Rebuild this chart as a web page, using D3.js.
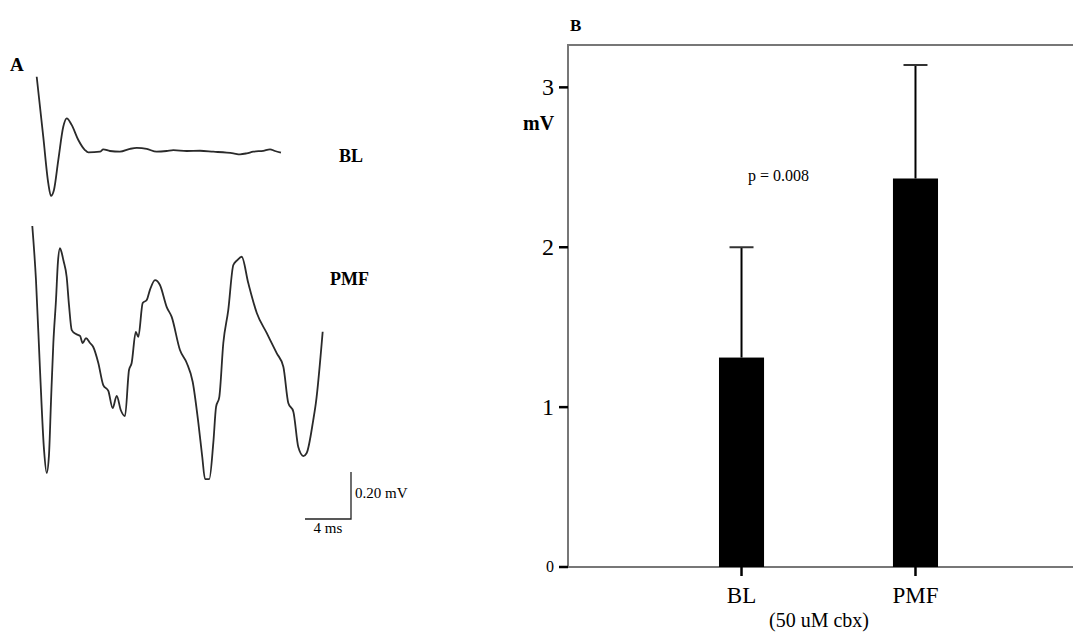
<!DOCTYPE html>
<html>
<head>
<meta charset="utf-8">
<script src="https://cdn.jsdelivr.net/npm/d3@7"></script>
<style>
  body { margin: 0; background: #fff; }
  svg { display: block; }
  text { font-family: "Liberation Serif", "Times New Roman", serif; fill: #000; }
</style>
</head>
<body>
<div id="chart"></div>
<script>
// panel A traces: time (ms) and voltage (mV)
var blTime = [0, 0.57, 1.01, 1.24, 1.50, 1.88, 2.31, 2.61, 3.04, 3.62, 4.20, 4.49, 5.50, 5.79, 6.37, 7.24, 8.11, 8.70, 9.57, 10.43, 11.30, 11.88, 13.04, 14.20, 15.36, 16.52, 17.10, 17.68, 18.26, 18.83, 19.70, 20.29, 20.72, 21.24];
var blVolt = [0.316, 0.061, -0.138, -0.191, -0.166, -0.038, 0.103, 0.139, 0.111, 0.047, 0.004, -0.006, -0.003, 0.007, 0, -0.003, 0.009, 0.013, 0.009, -0.003, 0, 0.004, 0, 0.001, -0.003, -0.007, -0.010, -0.014, -0.010, -0.003, 0.001, 0.007, 0, -0.007];

var pmfTime = [0, 0.32, 0.67, 1.02, 1.25, 1.45, 1.63, 1.83, 2.06, 2.23, 2.41, 2.54, 2.70, 2.99, 3.19, 3.43, 3.80, 4.15, 4.38, 4.67, 5.02, 5.30, 5.74, 6.17, 6.61, 6.99, 7.34, 7.69, 8.06, 8.41, 8.64, 9.00, 9.22, 9.60, 9.95, 10.23, 10.67, 11.10, 11.69, 12.12, 12.84, 13.43, 13.95, 14.44, 14.78, 15.02, 15.39, 15.74, 15.98, 16.26, 16.61, 17.04, 17.48, 17.83, 18.21, 18.78, 19.52, 20.38, 21.25, 21.83, 22.26, 22.70, 23.13, 23.57, 23.86, 24.43, 24.66, 25.25];
var pmfVolt = [0.532, 0.302, -0.081, -0.421, -0.519, -0.443, -0.209, 0.034, 0.217, 0.379, 0.438, 0.421, 0.387, 0.315, 0.196, 0.089, 0.072, 0.064, 0.034, 0.055, 0.034, 0.017, -0.051, -0.145, -0.170, -0.243, -0.191, -0.251, -0.277, -0.081, -0.051, 0.081, 0.060, 0.204, 0.217, 0.260, 0.302, 0.281, 0.187, 0.145, 0.004, -0.051, -0.132, -0.306, -0.451, -0.545, -0.545, -0.391, -0.238, -0.196, 0.034, 0.174, 0.366, 0.387, 0.401, 0.289, 0.162, 0.077, -0.009, -0.067, -0.221, -0.258, -0.409, -0.447, -0.434, -0.294, -0.221, 0.082];

var scaleBarMs = 4;
var scaleBarMv = 0.20;

// panel B bars
var categories = ["BL", "PMF"];
var means = [1.31, 2.43];
var errors = [0.69, 0.71];
var yTicks = [0, 1, 2, 3];
var pText = "p = 0.008";

var width = 1073, height = 632;

var svg = d3.select("#chart").append("svg")
  .attr("width", width)
  .attr("height", height);

// ---------- panel A ----------
var xA = d3.scaleLinear().domain([0, 26]).range([0, 299]);   // 11.5 px per ms
var yA = d3.scaleLinear().domain([-1, 1]).range([235, -235]); // 235 px per mV

var line = d3.line()
  .x(function(d) { return xA(d[0]); })
  .y(function(d) { return yA(d[1]); })
  .curve(d3.curveMonotoneX);

var traces = [
  { t: blTime, v: blVolt, ox: 36.7, oy: 151, label: "BL", lx: 339, ly: 162 },
  { t: pmfTime, v: pmfVolt, ox: 32.3, oy: 351, label: "PMF", lx: 330, ly: 285 }
];

traces.forEach(function(tr) {
  var g = svg.append("g").attr("transform", "translate(" + tr.ox + "," + tr.oy + ")");
  g.append("path")
    .datum(d3.zip(tr.t, tr.v))
    .attr("fill", "none")
    .attr("stroke", "#2a2a2a")
    .attr("stroke-width", 1.8)
    .attr("stroke-linejoin", "round")
    .attr("d", line);
  svg.append("text")
    .attr("x", tr.lx)
    .attr("y", tr.ly)
    .attr("font-size", 18)
    .attr("font-weight", "bold")
    .text(tr.label);
});

svg.append("text").attr("x", 10).attr("y", 71)
  .attr("font-size", 19).attr("font-weight", "bold").text("A");

// scale bar
var sbX = 351, sbY = 519;
var sbW = xA(scaleBarMs) - xA(0);
var sbH = yA(0) - yA(scaleBarMv);
svg.append("path")
  .attr("d", "M" + (sbX - sbW) + "," + sbY + "H" + sbX + "V" + (sbY - sbH))
  .attr("fill", "none")
  .attr("stroke", "#222")
  .attr("stroke-width", 1.3);
svg.append("text").attr("x", sbX + 4).attr("y", sbY - sbH / 2 + 2)
  .attr("font-size", 15).text(scaleBarMv.toFixed(2) + " mV");
svg.append("text").attr("x", sbX - sbW / 2).attr("y", sbY + 14)
  .attr("text-anchor", "middle").attr("font-size", 15).text(scaleBarMs + " ms");

// ---------- panel B ----------
var bLeft = 568, bRight = 1073, bTop = 45, bBottom = 567;

var yB = d3.scaleLinear().domain([0, 3.265]).range([bBottom, bTop]);
var xB = d3.scaleBand().domain(categories).range([632, 1025])
  .paddingInner(0.741).paddingOuter(0.5);

// frame (top, left, bottom)
svg.append("path")
  .attr("d", "M" + bRight + "," + bTop + "H" + bLeft + "V" + bBottom + "H" + bRight)
  .attr("fill", "none")
  .attr("stroke", "#777")
  .attr("stroke-width", 2);

// y ticks
svg.selectAll(".ytick").data(yTicks).enter().append("line")
  .attr("x1", bLeft - 9).attr("x2", bLeft)
  .attr("y1", function(d) { return yB(d); })
  .attr("y2", function(d) { return yB(d); })
  .attr("stroke", "#000").attr("stroke-width", 2.5);

svg.selectAll(".ylab").data(yTicks).enter().append("text")
  .attr("x", bLeft - 14)
  .attr("y", function(d) { return yB(d) + (d === 0 ? 5 : 8); })
  .attr("text-anchor", "end")
  .attr("font-size", function(d) { return d === 0 ? 16 : 24; })
  .text(function(d) { return d; });

svg.append("text").attr("x", 523).attr("y", 130)
  .attr("font-size", 20).attr("font-weight", "bold").text("mV");

svg.append("text").attr("x", 570).attr("y", 31)
  .attr("font-size", 17).attr("font-weight", "bold").text("B");

// error bars (upper only)
var bw = xB.bandwidth();
categories.forEach(function(c, i) {
  var cx = xB(c) + bw / 2;
  svg.append("line")
    .attr("x1", cx).attr("x2", cx)
    .attr("y1", yB(means[i])).attr("y2", yB(means[i] + errors[i]))
    .attr("stroke", "#000").attr("stroke-width", 2);
  svg.append("line")
    .attr("x1", cx - 12).attr("x2", cx + 12)
    .attr("y1", yB(means[i] + errors[i])).attr("y2", yB(means[i] + errors[i]))
    .attr("stroke", "#333").attr("stroke-width", 2);
});

// bars
svg.selectAll(".bar").data(categories).enter().append("rect")
  .attr("x", function(d) { return xB(d); })
  .attr("y", function(d, i) { return yB(means[i]); })
  .attr("width", bw)
  .attr("height", function(d, i) { return yB(0) - yB(means[i]); })
  .attr("fill", "#000");

// x ticks and labels
svg.selectAll(".xtick").data(categories).enter().append("line")
  .attr("x1", function(d) { return xB(d) + bw / 2; })
  .attr("x2", function(d) { return xB(d) + bw / 2; })
  .attr("y1", bBottom).attr("y2", bBottom + 9)
  .attr("stroke", "#000").attr("stroke-width", 2.5);

svg.selectAll(".xlab").data(categories).enter().append("text")
  .attr("x", function(d) { return xB(d) + bw / 2; })
  .attr("y", 603)
  .attr("text-anchor", "middle")
  .attr("font-size", 23)
  .text(function(d) { return d; });

svg.append("text").attr("x", 819).attr("y", 627)
  .attr("text-anchor", "middle").attr("font-size", 20).text("(50 uM cbx)");

svg.append("text").attr("x", 748).attr("y", 181)
  .attr("font-size", 16).text(pText);
</script>
</body>
</html>
